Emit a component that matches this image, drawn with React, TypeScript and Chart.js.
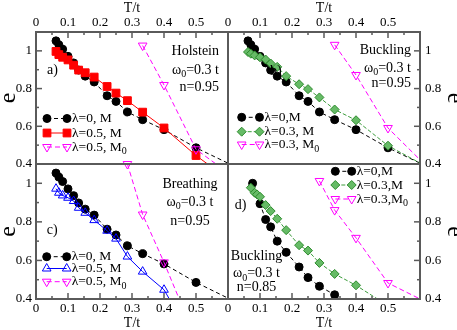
import React, { useEffect, useRef } from 'react';
import { Chart, registerables } from 'chart.js';

Chart.register(...registerables);

const W = 457;
const H = 330;
const FONT = "'Liberation Serif', 'Times New Roman', serif";
const FRAME = '#5a5a5a';

// ---------- data (T/t, e) ----------
const T_GRID = [0.0625, 0.0714, 0.0833, 0.1, 0.1176, 0.1333, 0.1538, 0.1818, 0.2222, 0.25, 0.2857, 0.3333, 0.4, 0.5, 0.6667];
const E_LAMBDA0 = [1.053, 1.032, 1.009, 0.971, 0.936, 0.898, 0.866, 0.835, 0.762, 0.732, 0.676, 0.635, 0.582, 0.486, 0.35];

const E_HOLSTEIN_M = [0.997, 0.98, 0.966, 0.952, 0.924, 0.898, 0.884, 0.861, 0.811, 0.776, 0.736, 0.675, 0.591, 0.445, 0.237];
const T_HOLSTEIN_M0 = [0.3333, 0.4, 0.5, 0.6667];
const E_HOLSTEIN_M0 = [1.028, 0.819, 0.478, 0.27];

const E_BUCKLING95_M = [0.994, 0.985, 0.976, 0.966, 0.954, 0.933, 0.915, 0.866, 0.823, 0.797, 0.753, 0.689, 0.632, 0.497, 0.344];
const T_BUCKLING95_M0 = [0.3333, 0.4, 0.5, 0.6667];
const E_BUCKLING95_M0 = [1.032, 0.872, 0.591, 0.31];

const T_BREATHING_M = [0.0625, 0.0714, 0.0833, 0.1, 0.1176, 0.1333, 0.1538, 0.1818, 0.2222, 0.25, 0.2857, 0.3333, 0.4, 0.5];
const E_BREATHING_M = [0.972, 0.951, 0.937, 0.925, 0.908, 0.873, 0.847, 0.809, 0.754, 0.713, 0.62, 0.542, 0.448, 0.16];
const T_BREATHING_M0 = [0.2857, 0.3333, 0.4, 0.5];
const E_BREATHING_M0 = [1.1, 0.838, 0.59, 0.19];

const T_BUCKLING85_L0 = [0.0769, 0.1, 0.1176, 0.1333, 0.1538, 0.1818, 0.2222, 0.25, 0.2857, 0.3333, 0.4];
const E_BUCKLING85_L0 = [1.0, 0.894, 0.812, 0.774, 0.7, 0.642, 0.566, 0.511, 0.466, 0.422, 0.32];
const T_BUCKLING85_M = [0.0714, 0.0833, 0.0909, 0.1, 0.1176, 0.1333, 0.1538, 0.1818, 0.2222, 0.25, 0.2857, 0.3333, 0.4, 0.5];
const E_BUCKLING85_M = [0.977, 0.951, 0.942, 0.93, 0.887, 0.856, 0.816, 0.757, 0.679, 0.651, 0.587, 0.53, 0.471, 0.365];
const T_BUCKLING85_M0 = [0.2857, 0.3333, 0.4, 0.5, 0.6667];
const E_BUCKLING85_M0 = [1.012, 0.861, 0.717, 0.483, 0.345];

const X_TICKS = [0, 0.1, 0.2, 0.3, 0.4, 0.5, 0.6];
const Y_TICKS = [0.4, 0.6, 0.8, 1];

// ---------- styles ----------
type Shape = 'circle' | 'square' | 'diamond' | 'triDown' | 'triUp';
interface Style { color: string; dash: number[]; shape: Shape; r: number; fill: string; stroke: string; }
const STYLES: Record<string, Style> = {
  lam0: { color: '#000000', dash: [4, 3], shape: 'circle', r: 4, fill: '#000000', stroke: '#000000' },
  red: { color: '#ff0000', dash: [], shape: 'square', r: 5.5, fill: '#ff0000', stroke: '#ff0000' },
  green: { color: '#3c9c3c', dash: [4, 2], shape: 'diamond', r: 4.5, fill: '#66bb66', stroke: '#2e8b2e' },
  mag: { color: '#ff00ff', dash: [5, 3], shape: 'triDown', r: 5, fill: 'rgba(255,255,255,0)', stroke: '#ff00ff' },
  blue: { color: '#0000ff', dash: [], shape: 'triUp', r: 5, fill: 'rgba(255,255,255,0)', stroke: '#0000ff' },
};

type Part = [string, boolean?];
const OMEGA: Part[] = [['ω'], ['0', true], ['=0.3 t']];

interface Series { st: string; t: number[]; e: number[]; label: Part[]; clip?: any; }
interface PanelCfg {
  area: { l: number; t: number; r: number; b: number };
  xPos: 'top' | 'bottom';
  yPos: 'left' | 'right';
  series: Series[];
  legend: { x1: number; x2: number; xt: number; ys: number[] };
  notes: { align: 'right' | 'center'; x: number; ys: number[]; lines: Part[][] };
  tag: { text: string; x: number; y: number };
}

const PANELS: PanelCfg[] = [
  {
    area: { l: 36, t: 32, r: 228, b: 164 }, xPos: 'top', yPos: 'left',
    series: [
      { st: 'lam0', t: T_GRID, e: E_LAMBDA0, label: [['λ=0, M']] },
      { st: 'red', t: T_GRID, e: E_HOLSTEIN_M, label: [['λ=0.5, M']] },
      { st: 'mag', t: T_HOLSTEIN_M0, e: E_HOLSTEIN_M0, label: [['λ=0.5, M'], ['0', true]] },
    ],
    legend: { x1: 47, x2: 67, xt: 72, ys: [118.5, 133, 147] },
    notes: { align: 'right', x: 219, ys: [51.7, 70, 87.3], lines: [[['Holstein']], OMEGA, [['n=0.95']]] },
    tag: { text: 'a)', x: 47, y: 70 },
  },
  {
    area: { l: 228, t: 32, r: 420, b: 164 }, xPos: 'top', yPos: 'right',
    series: [
      { st: 'lam0', t: T_GRID, e: E_LAMBDA0, label: [['λ=0,M']] },
      { st: 'green', t: T_GRID, e: E_BUCKLING95_M, label: [['λ=0.3, M']] },
      { st: 'mag', t: T_BUCKLING95_M0, e: E_BUCKLING95_M0, label: [['λ=0.3, M'], ['0', true]] },
    ],
    legend: { x1: 241.7, x2: 259.5, xt: 264.5, ys: [117.3, 131.7, 144.5] },
    notes: { align: 'right', x: 411, ys: [50, 68.3, 83.5], lines: [[['Buckling']], OMEGA, [['n=0.95']]] },
    tag: { text: 'b)', x: 270, y: 71.7 },
  },
  {
    area: { l: 36, t: 164, r: 228, b: 299 }, xPos: 'bottom', yPos: 'left',
    series: [
      { st: 'lam0', t: T_GRID, e: E_LAMBDA0, label: [['λ=0, M']] },
      { st: 'blue', t: T_BREATHING_M, e: E_BREATHING_M, label: [['λ=0.5, M']] },
      { st: 'mag', t: T_BREATHING_M0, e: E_BREATHING_M0, label: [['λ=0.5, M'], ['0', true]], clip: { left: 0, top: 8, right: 0, bottom: 0 } },
    ],
    legend: { x1: 46.7, x2: 66.7, xt: 71.7, ys: [256.7, 268.5, 281.7] },
    notes: { align: 'center', x: 190, ys: [184.3, 202, 221.5], lines: [[['Breathing']], OMEGA, [['n=0.95']]] },
    tag: { text: 'c)', x: 46.7, y: 230.7 },
  },
  {
    area: { l: 228, t: 164, r: 420, b: 299 }, xPos: 'bottom', yPos: 'right',
    series: [
      { st: 'lam0', t: T_BUCKLING85_L0, e: E_BUCKLING85_L0, label: [['λ=0,M']] },
      { st: 'green', t: T_BUCKLING85_M, e: E_BUCKLING85_M, label: [['λ=0.3,M']] },
      { st: 'mag', t: T_BUCKLING85_M0, e: E_BUCKLING85_M0, label: [['λ=0.3,M'], ['0', true]] },
    ],
    legend: { x1: 335.3, x2: 351.7, xt: 356.7, ys: [171.3, 185, 199] },
    notes: { align: 'center', x: 256.5, ys: [256, 273.5, 287], lines: [[['Buckling']], OMEGA, [['n=0.85']]] },
    tag: { text: 'd)', x: 234.7, y: 205.7 },
  },
];

// ---------- drawing helpers ----------
function drawMarker(ctx: CanvasRenderingContext2D, st: Style, x: number, y: number) {
  const r = st.r;
  ctx.save();
  ctx.setLineDash([]);
  ctx.lineWidth = 1;
  ctx.fillStyle = st.fill;
  ctx.strokeStyle = st.stroke;
  ctx.beginPath();
  if (st.shape === 'circle') {
    ctx.arc(x, y, r, 0, Math.PI * 2);
  } else if (st.shape === 'square') {
    const s = Math.SQRT1_2 * r;
    ctx.rect(x - s, y - s, 2 * s, 2 * s);
  } else if (st.shape === 'diamond') {
    ctx.moveTo(x, y - r); ctx.lineTo(x + r, y); ctx.lineTo(x, y + r); ctx.lineTo(x - r, y); ctx.closePath();
  } else {
    const d = st.shape === 'triUp' ? 1 : -1;
    ctx.moveTo(x, y - d * r);
    ctx.lineTo(x + 0.866 * r, y + d * 0.5 * r);
    ctx.lineTo(x - 0.866 * r, y + d * 0.5 * r);
    ctx.closePath();
  }
  ctx.fill();
  ctx.stroke();
  ctx.restore();
}

const MAIN_SIZE = 14;
const SUB_SIZE = 10;
function drawRich(ctx: CanvasRenderingContext2D, parts: Part[], x: number, y: number, align: 'left' | 'right' | 'center', size = MAIN_SIZE) {
  ctx.save();
  ctx.textBaseline = 'middle';
  ctx.textAlign = 'left';
  ctx.fillStyle = '#000';
  const widths = parts.map(([t, sub]) => {
    ctx.font = `${sub ? SUB_SIZE : size}px ${FONT}`;
    return ctx.measureText(t).width;
  });
  const total = widths.reduce((a, b) => a + b, 0);
  let cx = align === 'left' ? x : align === 'right' ? x - total : x - total / 2;
  parts.forEach(([t, sub], i) => {
    ctx.font = `${sub ? SUB_SIZE : size}px ${FONT}`;
    ctx.fillText(t, cx, sub ? y + 4.5 : y);
    cx += widths[i];
  });
  ctx.restore();
}

function fmtX(v: number) {
  const r = Math.round(v * 10);
  if (r === 0) return '0';
  return r < 6 ? '0.' + r : '';
}
function fmtY(v: number) {
  const hit = Y_TICKS.find((t) => Math.abs(t - v) < 1e-6);
  if (hit === undefined) return '';
  return hit === 1 ? '1' : String(hit);
}

function buildConfig(cfg: PanelCfg): any {
  const isTop = cfg.xPos === 'top';
  const isLeft = cfg.yPos === 'left';
  const a = cfg.area;
  const n = cfg.series.length;

  const datasets = cfg.series.map((s, i) => {
    const st = STYLES[s.st];
    const ds: any = {
      data: s.t.map((t, k) => ({ x: t, y: s.e[k] })),
      borderColor: st.color,
      borderWidth: 1,
      borderDash: st.dash,
      pointStyle: st.shape === 'circle' ? 'circle' : st.shape === 'square' ? 'rect' : st.shape === 'diamond' ? 'rectRot' : 'triangle',
      pointRotation: st.shape === 'triDown' ? 180 : 0,
      pointRadius: st.r,
      pointBackgroundColor: st.fill,
      pointBorderColor: st.stroke,
      pointBorderWidth: 1,
      fill: false,
      tension: 0,
      order: n - i,
    };
    if (s.clip) ds.clip = s.clip;
    return ds;
  });

  const deco = {
    id: 'deco',
    afterDraw(chart: any) {
      const ctx: CanvasRenderingContext2D = chart.ctx;
      const { left, top, right, bottom } = chart.chartArea;
      const xs = chart.scales.x;
      const ys = chart.scales.y;
      ctx.save();
      ctx.setLineDash([]);
      ctx.strokeStyle = FRAME;
      ctx.lineWidth = 1.5;
      // inward ticks on the labelled axes
      for (let i = 0; i <= 12; i++) {
        const px = xs.getPixelForValue(i * 0.05);
        const len = i % 2 === 0 ? 6 : 3;
        ctx.beginPath();
        if (isTop) { ctx.moveTo(px, top); ctx.lineTo(px, top + len); }
        else { ctx.moveTo(px, bottom); ctx.lineTo(px, bottom - len); }
        ctx.stroke();
      }
      for (let i = 4; i <= 11; i++) {
        const py = ys.getPixelForValue(i / 10);
        const len = i % 2 === 0 ? 6 : 3;
        ctx.beginPath();
        if (isLeft) { ctx.moveTo(left, py); ctx.lineTo(left + len, py); }
        else { ctx.moveTo(right, py); ctx.lineTo(right - len, py); }
        ctx.stroke();
      }
      ctx.lineWidth = 2;
      ctx.strokeRect(left, top, right - left, bottom - top);
      ctx.restore();

      // legend
      const lg = cfg.legend;
      cfg.series.forEach((s, i) => {
        const st = STYLES[s.st];
        const y = lg.ys[i];
        ctx.save();
        ctx.strokeStyle = st.color;
        ctx.lineWidth = 1;
        ctx.setLineDash(st.dash);
        ctx.beginPath();
        ctx.moveTo(lg.x1, y);
        ctx.lineTo(lg.x2, y);
        ctx.stroke();
        ctx.restore();
        drawMarker(ctx, st, lg.x1, y);
        drawMarker(ctx, st, lg.x2, y);
        drawRich(ctx, s.label, lg.xt, y, 'left', 13.5);
      });

      // notes
      cfg.notes.lines.forEach((ln, i) => drawRich(ctx, ln, cfg.notes.x, cfg.notes.ys[i], cfg.notes.align));
      drawRich(ctx, [[cfg.tag.text]], cfg.tag.x, cfg.tag.y, 'left');
    },
  };

  return {
    type: 'line',
    data: { datasets },
    options: {
      responsive: false,
      animation: false,
      events: [],
      devicePixelRatio: 1,
      layout: {
        padding: {
          left: isLeft ? 0 : a.l,
          right: isLeft ? W - a.r : 0,
          top: isTop ? 0 : a.t,
          bottom: isTop ? H - a.b : 0,
        },
      },
      plugins: { legend: { display: false }, tooltip: { enabled: false }, title: { display: false } },
      scales: {
        x: {
          type: 'linear',
          position: cfg.xPos,
          min: 0,
          max: 0.6,
          afterFit: (s: any) => { s.height = isTop ? a.t : H - a.b; },
          afterBuildTicks: (s: any) => { s.ticks = X_TICKS.map((v) => ({ value: v })); },
          grid: { display: false, drawTicks: false },
          border: { display: false },
          ticks: {
            autoSkip: false,
            maxRotation: 0,
            minRotation: 0,
            padding: isTop ? 2 : 1.5,
            color: '#000',
            font: { family: FONT, size: 13 },
            callback: (v: any) => fmtX(Number(v)),
          },
          title: {
            display: true,
            text: 'T/t',
            color: '#000',
            font: { family: FONT, size: 14, lineHeight: 1 },
            padding: { top: isTop ? 1 : 0, bottom: 0 },
          },
        },
        y: {
          type: 'linear',
          position: cfg.yPos,
          min: 0.4,
          max: 1.1,
          afterFit: (s: any) => { s.width = isLeft ? a.l : W - a.r; },
          afterBuildTicks: (s: any) => { s.ticks = [0.4, 0.5, 0.6, 0.7, 0.8, 0.9, 1.0, 1.1].map((v) => ({ value: v })); },
          grid: { display: false, drawTicks: false },
          border: { display: false },
          ticks: {
            autoSkip: false,
            padding: isLeft ? 4 : 5,
            color: '#000',
            font: { family: FONT, size: 13 },
            callback: (v: any) => fmtY(Number(v)),
          },
          title: {
            display: true,
            text: 'e',
            color: '#000',
            font: { family: FONT, size: 24, lineHeight: isLeft ? 0.75 : 0.2 },
            padding: 0,
          },
        },
      },
    },
    plugins: [deco],
  };
}

function Panel({ cfg }: { cfg: PanelCfg }) {
  const ref = useRef<HTMLCanvasElement>(null);
  useEffect(() => {
    if (!ref.current) return;
    const chart = new Chart(ref.current, buildConfig(cfg));
    return () => chart.destroy();
  }, [cfg]);
  return (
    <canvas
      ref={ref}
      width={W}
      height={H}
      style={{ position: 'absolute', left: 0, top: 0, width: W, height: H }}
    />
  );
}

export default function App() {
  return (
    <div style={{ position: 'absolute', left: 0, top: 0, width: W, height: H, background: '#fff', overflow: 'hidden' }}>
      {PANELS.map((p, i) => (
        <Panel key={i} cfg={p} />
      ))}
    </div>
  );
}
